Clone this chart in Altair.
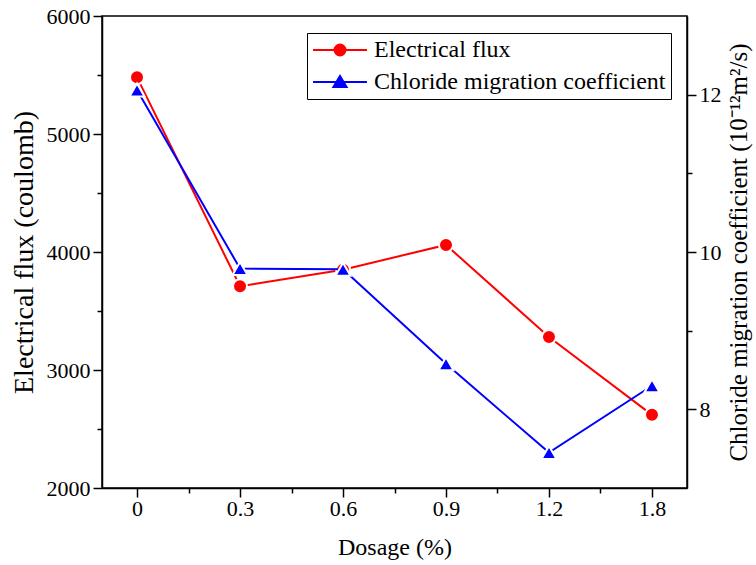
import json

import altair as alt
import pandas as pd

# Dosage levels (plotted at equal spacing) and the two measured series
dosage_labels = ["0", "0.3", "0.6", "0.9", "1.2", "1.8"]
electrical_flux = [5480, 3710, 3850, 4060, 3280, 2620]          # coulomb
chloride_coeff = [12.06, 9.79, 9.78, 8.58, 7.45, 8.30]          # 10^-12 m^2/s

series_names = ["Electrical flux", "Chloride migration coefficient"]
series_colors = ["#ff0000", "#0000ff"]

FONT = "Liberation Serif"

df = pd.DataFrame({
    "pos": list(range(len(dosage_labels))),
    "dosage": dosage_labels,
    "flux": electrical_flux,
    "chloride": chloride_coeff,
})
legend_df = pd.DataFrame({"series": series_names})

W, H = 585, 472

# x: category index, major ticks on the categories, minor ticks between them
label_lookup = json.dumps(dosage_labels)
x_scale = alt.Scale(domain=[-0.34, len(dosage_labels) - 1 + 0.34], nice=False, zero=False)
x_axis = alt.Axis(
    title="Dosage (%)",
    values=[i * 0.5 for i in range(2 * len(dosage_labels) - 1)],
    labelExpr=f"datum.value % 1 === 0 ? {label_lookup}[datum.value] : ''",
    tickSize={"condition": {"test": "datum.value % 1 === 0", "value": 9}, "value": 5},
    labelPadding=1, labelOverlap=False, labelFlush=False,
    titlePadding=16,
)

left_axis = alt.Axis(
    title="Electrical flux (coulomb)",
    values=list(range(2000, 6001, 500)),
    labelExpr="datum.value % 1000 === 0 ? datum.value : ''",
    tickSize={"condition": {"test": "datum.value % 1000 === 0", "value": 9}, "value": 5},
    labelPadding=3, labelOverlap=False, labelFlush=False,
    titleFontSize=28, titlePadding=8,
)

right_axis = alt.Axis(
    title="Chloride migration coefficient (10\u207b\u00b9\u00b2m\u00b2/s)",
    orient="right",
    values=[8, 9, 10, 11, 12],
    labelExpr="datum.value % 2 === 0 ? datum.value : ''",
    tickSize={"condition": {"test": "datum.value % 2 === 0", "value": 9}, "value": 5},
    labelPadding=3, labelOverlap=False, labelFlush=False,
    titleAngle=270, titleBaseline="top", titleFontSize=25, titlePadding=5,
)

x_enc = alt.X("pos:Q", scale=x_scale, axis=x_axis)
y_left = alt.Y("flux:Q", scale=alt.Scale(domain=[2000, 6000], nice=False, zero=False), axis=left_axis)
y_right = alt.Y("chloride:Q", scale=alt.Scale(domain=[7, 13], nice=False, zero=False), axis=right_axis)

base = alt.Chart(df)

flux_line = base.mark_line(color=series_colors[0], strokeWidth=2).encode(x=x_enc, y=y_left)
flux_pts = base.mark_point(
    shape="circle", filled=True, fill=series_colors[0], stroke="white",
    strokeWidth=2, size=196, opacity=1,
).encode(x=x_enc, y=y_left)

# Legend symbols: a line segment with the series marker on it
circle_sym = ("M-2.45,0L2.45,0M0.5,0A0.5,0.5,0,1,1,-0.5,0"
              "A0.5,0.5,0,1,1,0.5,0Z")
tri_sym = "M-2.45,0L2.45,0M0,-0.55L0.6,0.45L-0.6,0.45Z"

legend = alt.Legend(
    title=None, orient="none", legendX=205, legendY=17,
    labelFont=FONT, labelFontSize=24, labelColor="black", labelLimit=0,
    symbolSize=484, symbolStrokeWidth=2, symbolOffset=16, labelOffset=22,
    padding=5, rowPadding=8, strokeColor="black", fillColor="white",
    cornerRadius=0,
)
legend_layer = alt.Chart(legend_df).transform_filter(
    "datum.series == 'none'"
).mark_point(filled=True, strokeWidth=2, opacity=1).encode(
    fill=alt.Fill("series:N", scale=alt.Scale(domain=series_names, range=series_colors), legend=legend),
    stroke=alt.Stroke("series:N", scale=alt.Scale(domain=series_names, range=series_colors), legend=legend),
    shape=alt.Shape("series:N", scale=alt.Scale(domain=series_names, range=[circle_sym, tri_sym]), legend=legend),
)

chl_line = base.mark_line(color=series_colors[1], strokeWidth=2).encode(x=x_enc, y=y_right)
chl_pts = base.mark_point(
    shape="triangle-up", filled=True, fill=series_colors[1], stroke="white",
    strokeWidth=2, size=225, opacity=1,
).encode(x=x_enc, y=y_right)

left = alt.layer(flux_line, flux_pts, legend_layer)
right = alt.layer(chl_line, chl_pts)

chart = alt.layer(left, right).resolve_scale(
    y="independent"
).properties(
    width=W, height=H,
    autosize=alt.AutoSizeParams(type="none"),
    padding={"left": 102, "top": 16, "right": 69, "bottom": 77},
    background="white",
).configure_view(
    stroke="black", strokeWidth=1.5,
).configure_axis(
    grid=False,
    domainColor="black", domainWidth=1.5,
    tickColor="black", tickWidth=1.5,
    labelFont=FONT, labelFontSize=22, labelColor="black",
    titleFont=FONT, titleFontSize=24, titleFontWeight="normal", titleColor="black",
)

chart.save("out.html", embed_options={"renderer": "svg", "actions": False})
